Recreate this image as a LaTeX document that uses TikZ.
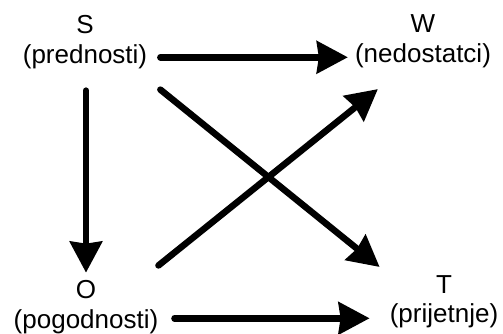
\documentclass[tikz,border=0pt]{standalone}
\usepackage{fontspec}
\setmainfont{Liberation Sans}
\usetikzlibrary{arrows.meta,calc}

\begin{document}
\begin{tikzpicture}[
x=1pt,y=-1pt,
lbl/.style={inner sep=0pt,anchor=base,font=\fontsize{26}{30}\selectfont},
arr/.style={line width=6.5pt,line cap=round,-{Stealth[length=31pt,width=32pt,inset=2pt]}},
]
	\useasboundingbox (0,0) rectangle (503,333);
	% letters
	\node[lbl] (sl) at (85,33) {S};
	\node[lbl] (wl) at (423,32) {W};
	\node[lbl] (ol) at (86,298) {O};
	\node[lbl] (tl) at (444,293) {T};
	% meanings
	\node[lbl] (s) at (85,63) {(prednosti)};
	\node[lbl] (w) at (423,62) {(nedostatci)};
	\node[lbl] (o) at (86,328) {(pogodnosti)};
	\node[lbl] (t) at (444,322) {(prijetnje)};
	% arrows
	\draw[arr] ($(s.east)+(13,1)$) -- ($(s.east -| w.west)+(-7,1)$);
	\draw[arr] ($(s.south)+(1,22)$) -- ($(ol.north)+(0,-7)$);
	\draw[arr] ($(o.east)+(16,-3)$) -- ($(o.east -| t.west)+(-20,-3)$);
	\draw[arr] ($(s.south east)+(13,21)$) -- ($(t.north west)+(-10,-36)$);
	\draw[arr] ($(o.north east)+(0,-43.5)$) -- ($(w.south west)+(23,21.5)$);
\end{tikzpicture}
\end{document}
